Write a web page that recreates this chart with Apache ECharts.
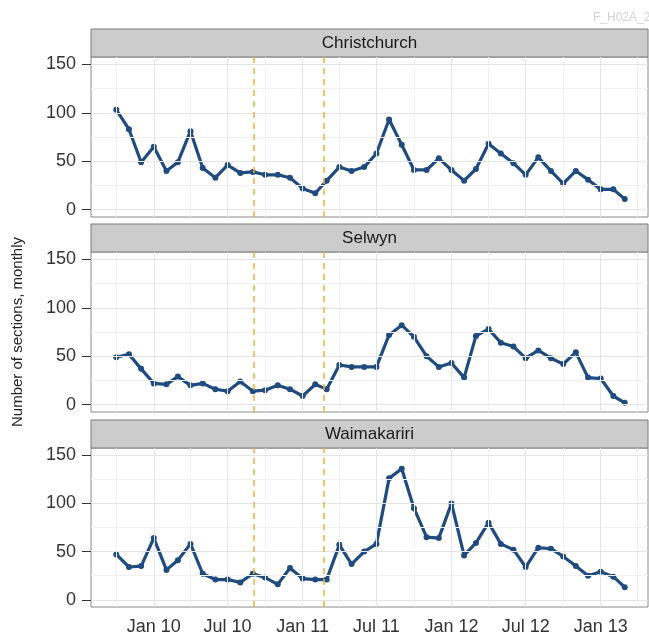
<!DOCTYPE html>
<html>
<head>
<meta charset="utf-8">
<script src="https://cdn.jsdelivr.net/npm/echarts@6/dist/echarts.min.js"></script>
<style>
html, body { margin: 0; padding: 0; background: #fff; }
#chart { width: 649px; height: 636px; }
</style>
</head>
<body>
<div id="chart"></div>
<script>
'use strict';

// monthly sections, Oct 2009 - Mar 2013
var months = [
	'2009-10', '2009-11', '2009-12',
	'2010-01', '2010-02', '2010-03', '2010-04', '2010-05', '2010-06',
	'2010-07', '2010-08', '2010-09', '2010-10', '2010-11', '2010-12',
	'2011-01', '2011-02', '2011-03', '2011-04', '2011-05', '2011-06',
	'2011-07', '2011-08', '2011-09', '2011-10', '2011-11', '2011-12',
	'2012-01', '2012-02', '2012-03', '2012-04', '2012-05', '2012-06',
	'2012-07', '2012-08', '2012-09', '2012-10', '2012-11', '2012-12',
	'2013-01', '2013-02', '2013-03'
];
var christchurch = [103, 83, 49, 65, 40, 49, 81, 43, 33, 46, 38, 39, 36, 36, 33, 22, 17, 30, 44, 40, 44,
	58, 93, 67, 41, 41, 53, 41, 30, 42, 68, 58, 48, 36, 54, 40, 27, 40, 31, 21, 21, 11];
var selwyn = [49, 52, 37, 22, 21, 29, 20, 22, 16, 14, 24, 14, 15, 20, 16, 9, 21, 16, 41, 39, 39,
	39, 72, 82, 70, 50, 39, 43, 28, 71, 78, 64, 60, 48, 56, 48, 42, 54, 28, 27, 9, 2];
var waimakariri = [47, 34, 35, 64, 31, 41, 58, 27, 21, 21, 18, 27, 23, 16, 33, 22, 21, 21, 57, 37, 50,
	58, 126, 136, 95, 65, 64, 100, 46, 59, 80, 58, 52, 34, 54, 53, 45, 35, 25, 29, 24, 13];

var panelNames = ['Christchurch', 'Selwyn', 'Waimakariri'];
var panelValues = [christchurch, selwyn, waimakariri];

var xTickDates = ['2010-01', '2010-07', '2011-01', '2011-07', '2012-01', '2012-07', '2013-01'];
var xTickLabels = ['Jan 10', 'Jul 10', 'Jan 11', 'Jul 11', 'Jan 12', 'Jul 12', 'Jan 13'];
var xMinorDates = ['2009-10', '2010-04', '2010-10', '2011-04', '2011-10', '2012-04', '2012-10', '2013-04'];
var yTicks = [0, 50, 100, 150];
var yMinor = [25, 75, 125];
var quakeDates = ['2010-09-04', '2011-02-22'];

var FONT = 'Liberation Sans, Arial, sans-serif';
var LINE_COLOR = '#1f4b7f';
var panelTops = [57, 252, 448],
		panelH = 160,
		panelL = 91,
		panelW = 557,
		stripH = 28;

// days since 1970, so the x axis can be a plain value axis
function toTime(s) {
	var p = s.split('-');
	return Date.UTC(+p[0], +p[1] - 1, p[2] ? +p[2] : 1) / 86400000;
}

var tickTimes = xTickDates.map(toTime);

function xLabel(v) {
	for (var i = 0; i < tickTimes.length; i++) {
		if (Math.abs(tickTimes[i] - v) < 0.5) { return xTickLabels[i]; }
	}
	return '';
}

function refLines() {
	var out = [];
	xMinorDates.forEach(function (d) {
		out.push({xAxis: toTime(d), lineStyle: {color: '#f1f1f1', width: 1, type: 'solid'}});
	});
	yMinor.forEach(function (v) {
		out.push({yAxis: v, lineStyle: {color: '#f1f1f1', width: 1, type: 'solid'}});
	});
	xTickDates.forEach(function (d) {
		out.push({xAxis: toTime(d), lineStyle: {color: '#e4e4e4', width: 1, type: 'solid'}});
	});
	yTicks.forEach(function (v) {
		out.push({yAxis: v, lineStyle: {color: '#e4e4e4', width: 1, type: 'solid'}});
	});
	quakeDates.forEach(function (d) {
		out.push({xAxis: toTime(d), lineStyle: {color: '#f5ad3c', width: 1.5, type: [6, 5]}});
	});
	return out;
}

var grids = [], xAxes = [], yAxes = [], series = [], graphics = [];

panelNames.forEach(function (name, i) {
	var top = panelTops[i],
			last = i === panelNames.length - 1;

	grids.push({
		left: panelL, top: top, width: panelW, height: panelH,
		show: true, backgroundColor: '#fff', borderColor: '#8a8a8a', borderWidth: 1
	});

	xAxes.push({
		type: 'value', gridIndex: i,
		min: toTime('2009-07-31'), max: toTime('2013-04-27'),
		axisLine: {show: false},
		splitLine: {show: false},
		axisTick: {show: last, customValues: tickTimes, length: 6, lineStyle: {color: '#333'}},
		axisLabel: {
			show: last, customValues: tickTimes, formatter: xLabel,
			fontSize: 18, color: '#333', fontFamily: FONT, margin: 11
		}
	});

	yAxes.push({
		type: 'value', gridIndex: i, min: -7.5, max: 157.5,
		axisLine: {show: false},
		splitLine: {show: false},
		axisTick: {show: true, customValues: yTicks, length: 9, lineStyle: {color: '#333'}},
		axisLabel: {customValues: yTicks, fontSize: 18, color: '#333', fontFamily: FONT, margin: 15},
		name: i === 1 ? 'Number of sections, monthly' : '',
		nameLocation: 'middle', nameRotate: 90, nameGap: 66,
		nameTextStyle: {fontSize: 15, color: '#222', fontFamily: FONT}
	});

	series.push({
		type: 'line', xAxisIndex: i, yAxisIndex: i, data: [], silent: true, z: 1,
		markLine: {
			silent: true, symbol: ['none', 'none'], label: {show: false},
			emphasis: {disabled: true}, animation: false,
			data: refLines()
		}
	});

	series.push({
		name: name, type: 'line', xAxisIndex: i, yAxisIndex: i, z: 3,
		symbol: 'circle', symbolSize: 6, showSymbol: true,
		itemStyle: {color: LINE_COLOR},
		lineStyle: {color: LINE_COLOR, width: 3.2},
		data: months.map(function (m, k) { return [toTime(m), panelValues[i][k]]; })
	});

	graphics.push({
		type: 'rect', silent: true,
		shape: {x: panelL, y: top - stripH, width: panelW, height: stripH},
		style: {fill: '#cccccc', stroke: '#7a7a7a', lineWidth: 1}
	});
	graphics.push({
		type: 'text', silent: true,
		x: panelL + panelW / 2, y: top - stripH / 2,
		style: {text: name, font: '17px ' + FONT, fill: '#1a1a1a', align: 'center', verticalAlign: 'middle'}
	});
});

graphics.push({
	type: 'text', silent: true, x: 593, y: 18,
	style: {text: 'F_H02A_2', font: '12px ' + FONT, fill: '#d2d2d2', verticalAlign: 'middle'}
});

var chart = echarts.init(document.getElementById('chart'));
chart.setOption({
	animation: false,
	backgroundColor: '#fff',
	grid: grids,
	xAxis: xAxes,
	yAxis: yAxes,
	series: series,
	graphic: graphics
});
</script>
</body>
</html>
